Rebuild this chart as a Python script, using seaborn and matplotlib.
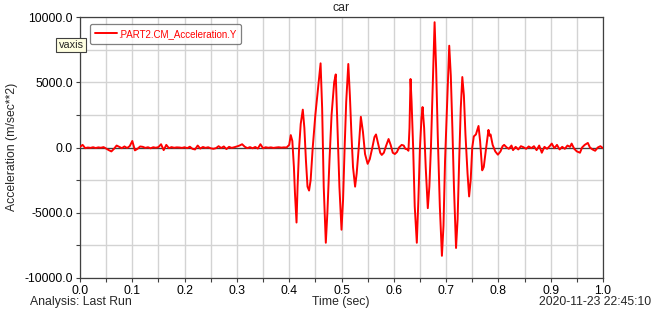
import matplotlib
matplotlib.use("Agg")
import matplotlib.pyplot as plt
import seaborn as sns
import pandas as pd
from matplotlib.ticker import MultipleLocator, FormatStrFormatter

# ---------------- data ----------------
noise_t = [0.000, 0.005, 0.010, 0.015, 0.020, 0.025, 0.030, 0.035, 0.040, 0.045,
           0.050, 0.055, 0.060, 0.065, 0.070, 0.075, 0.080, 0.085, 0.090, 0.095,
           0.100, 0.105, 0.110, 0.115, 0.120, 0.125, 0.130, 0.135, 0.140, 0.145,
           0.150, 0.155, 0.160, 0.165, 0.170, 0.175, 0.180, 0.185, 0.190, 0.195,
           0.200, 0.205, 0.210, 0.215, 0.220, 0.225, 0.230, 0.235, 0.240, 0.245,
           0.250, 0.255, 0.260, 0.265, 0.270, 0.275, 0.280, 0.285, 0.290, 0.295,
           0.300, 0.305, 0.310, 0.315, 0.320, 0.325, 0.330, 0.335, 0.340, 0.345,
           0.350, 0.355, 0.360, 0.365, 0.370, 0.375, 0.380, 0.385, 0.390]
noise_y = [50, 200, -50, 0, -30, 20, -40, 10, -20, 30,
           -80, -200, -300, -100, 150, 50, -50, 80, -40, 100,
           500, -220, -100, 80, 50, -30, 20, -60, 20, -20,
           30, 250, -200, 200, -50, 30, -20, 10, 0, -30,
           20, -50, 60, -100, -150, 150, -80, 40, -30, 20,
           -60, -100, -50, 100, -40, 80, -120, 50, -30, 20,
           80, 150, 250, 60, -50, 30, -60, 40, -80, 250,
           -60, 20, -20, 10, -30, 0, 20, -10, 10]

burst_t = [0.395, 0.400, 0.403, 0.406, 0.409, 0.411, 0.414, 0.416, 0.419, 0.422,
           0.426, 0.429, 0.432, 0.435, 0.438, 0.441, 0.445, 0.450, 0.455, 0.460,
           0.463, 0.466, 0.470, 0.473, 0.477, 0.481, 0.486, 0.489, 0.492, 0.496,
           0.500, 0.503, 0.506, 0.509, 0.513, 0.516, 0.519, 0.522, 0.526, 0.529,
           0.533, 0.537, 0.541, 0.545, 0.550, 0.554, 0.559, 0.563, 0.566, 0.570,
           0.574, 0.577, 0.581, 0.585, 0.590, 0.594, 0.598, 0.602, 0.606, 0.610,
           0.615, 0.619, 0.622, 0.626, 0.628, 0.630, 0.632, 0.634, 0.637, 0.640,
           0.644, 0.647, 0.650, 0.653, 0.655, 0.658, 0.661, 0.665, 0.668, 0.671,
           0.674, 0.678, 0.681, 0.684, 0.688, 0.692, 0.695, 0.698, 0.702, 0.706,
           0.709, 0.712, 0.715, 0.719, 0.722, 0.725, 0.728, 0.731, 0.734, 0.737,
           0.741, 0.744, 0.747, 0.750, 0.753, 0.757, 0.762, 0.765, 0.769, 0.772,
           0.776, 0.779, 0.781, 0.783, 0.785, 0.789, 0.794, 0.799, 0.804, 0.808,
           0.811, 0.816]
burst_y = [0, 200, 950, 500, -1500, -3500, -5750, -3000, 0, 1800,
           2900, 1500, -1000, -3000, -3300, -2500, 0, 2500, 4500, 6450,
           3000, -3000, -7300, -5000, -1000, 2500, 5000, 5600, 2000, -3000,
           -6300, -4000, 0, 3500, 6400, 4000, 1000, -1500, -3000, -2000,
           0, 2350, 1200, -500, -1250, -900, 0, 800, 1000, 300,
           -400, -570, -400, 100, 650, 200, -400, -500, -350, 0,
           200, 150, -100, -150, -250, 1500, 5250, 3500, 0, -4500,
           -7300, -4000, 0, 2300, 3100, 1500, -1500, -4650, -3000, 0,
           4000, 9600, 6000, 1000, -4500, -8300, -6000, -1000, 3500, 7800,
           5500, 1500, -3000, -7700, -5500, -1000, 3000, 5400, 4000, 1000,
           -2000, -3750, -2500, 0, 850, 1000, 1650, 500, -1750, -1500,
           -200, 700, 1350, 900, 1000, 200, -300, -550, -300, 100,
           200, 0]

tail_t = [0.820, 0.825, 0.828, 0.833, 0.838, 0.843, 0.848, 0.853, 0.858, 0.863,
          0.868, 0.873, 0.878, 0.883, 0.888, 0.893, 0.898, 0.902, 0.907, 0.912,
          0.917, 0.922, 0.927, 0.932, 0.937, 0.940, 0.945, 0.950, 0.956, 0.960,
          0.965, 0.971, 0.975, 0.980, 0.985, 0.990, 0.995, 1.000]
tail_y = [-100, 150, -200, 50, -150, 100, 20, -100, 80, -50,
          100, -200, 150, -400, 50, -100, 100, 300, -50, 200,
          -150, 50, -100, 150, 50, 300, -100, -300, -400, 0,
          200, 350, 0, -150, -250, 0, 100, -50]

series_label = ".PART2.CM_Acceleration.Y"
title = "car"
x_label = "Time (sec)"
y_label = "Acceleration (m/sec**2)"
left_note = "Analysis: Last Run"
right_note = "2020-11-23 22:45:10"

df = pd.DataFrame({"time": noise_t + burst_t + tail_t,
                   "accel": noise_y + burst_y + tail_y})

# ---------------- plot ----------------
sns.set_theme(style="white")
plt.rcParams["font.family"] = ["Liberation Sans", "DejaVu Sans"]

W, H = 652, 310
FS = 8.8
fig = plt.figure(figsize=(W / 100, H / 100), dpi=100)
ax = fig.add_axes([80 / W, 1 - 278 / H, (603 - 80) / W, (278 - 17) / H])

ax.axhline(0, color="#404040", lw=0.9, zorder=2)
sns.lineplot(data=df, x="time", y="accel", ax=ax, color="#ff0000", lw=1.4,
             label=series_label, zorder=3, estimator=None, sort=False)

ax.set_xlim(0, 1.0)
ax.set_ylim(-10000, 10000)
ax.xaxis.set_major_locator(MultipleLocator(0.1))
ax.xaxis.set_minor_locator(MultipleLocator(0.05))
ax.yaxis.set_major_locator(MultipleLocator(5000))
ax.yaxis.set_minor_locator(MultipleLocator(2500))
ax.xaxis.set_major_formatter(FormatStrFormatter("%.1f"))
ax.yaxis.set_major_formatter(FormatStrFormatter("%.1f"))
ax.grid(True, which="both", color="#d3d3d3", lw=1.0, zorder=0)
ax.set_axisbelow(True)
ax.tick_params(which="both", direction="out", length=3, width=0.8,
               color="#404040", labelsize=FS, labelcolor="black", pad=2,
               bottom=True, left=True)
for s in ax.spines.values():
    s.set_color("#404040")
    s.set_linewidth(0.9)

ax.set_xlabel("")
ax.set_ylabel("")
fig.text(341 / W, 1 - 8 / H, title, ha="center", va="center", fontsize=FS)
fig.text(12 / W, 1 - 147 / H, y_label, ha="center", va="center",
         rotation=90, fontsize=FS)
fig.text(341 / W, 1 - 302 / H, x_label, ha="center", va="center", fontsize=FS)
fig.text(30 / W, 1 - 302 / H, left_note, ha="left", va="center", fontsize=FS)
fig.text(651 / W, 1 - 302 / H, right_note, ha="right", va="center", fontsize=FS)

leg = ax.legend(loc="upper left", bbox_to_anchor=(90 / W, 1 - 24 / H),
                bbox_transform=fig.transFigure, fontsize=7.0, frameon=True,
                fancybox=True, edgecolor="#606060", handlelength=2.3,
                handletextpad=0.1, borderpad=0.5, borderaxespad=0)
leg.get_frame().set_linewidth(0.9)
for t in leg.get_texts():
    t.set_color("#ff0000")

fig.text(71 / W, 1 - 45 / H, "vaxis", ha="center", va="center", fontsize=7.8,
         bbox=dict(boxstyle="square,pad=0.2", facecolor="#ffffe1",
                   edgecolor="#404040", lw=0.8))

fig.savefig("out.png", dpi=100)
